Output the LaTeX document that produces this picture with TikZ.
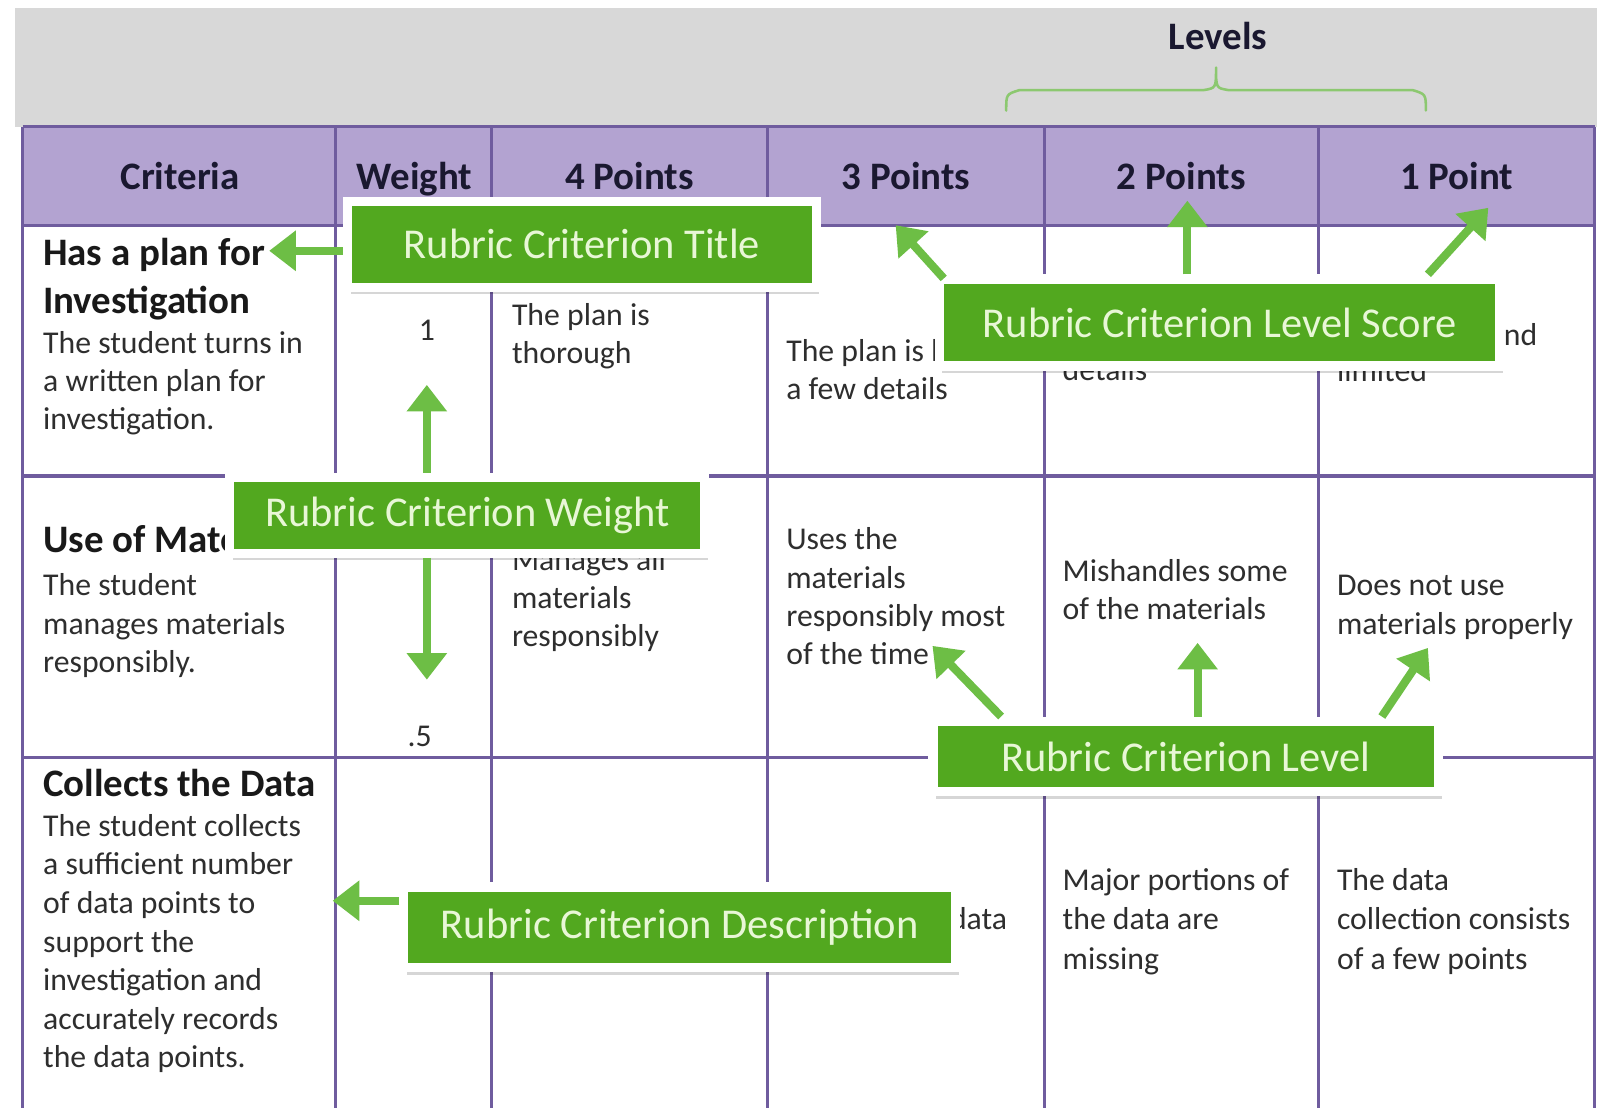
\documentclass[tikz,border=0pt]{standalone}
\usepackage{fontspec}
\setmainfont{Carlito}
\usetikzlibrary{arrows.meta,shadows}
\definecolor{gridc}{HTML}{6F5C9E}
\definecolor{headc}{HTML}{B3A3D1}
\definecolor{bandc}{HTML}{D8D8D8}
\definecolor{boxg}{HTML}{52A81F}
\definecolor{arrg}{HTML}{6DBE45}
\definecolor{labt}{HTML}{E8F7D6}
\definecolor{txtc}{HTML}{2E2E2E}
\definecolor{headt}{HTML}{1A1830}
\definecolor{bracec}{HTML}{8CC870}
\newcommand\celllines[5]{%
  \foreach \t [count=\i] in {#5} {\node[body] (#1-\i) at (#2,{#3+(\i-1)*#4}) {\t};}}
\begin{document}
\begin{tikzpicture}[x=1pt,y=-1pt,
  body/.style={anchor=base west, inner sep=0pt, text=txtc, font=\fontsize{31}{37}\selectfont},
  ttl/.style={anchor=base west, inner sep=0pt, text=black!90, font=\bfseries\fontsize{38}{45}\selectfont},
  hdr/.style={anchor=base, inner sep=0pt, text=headt, font=\bfseries\fontsize{38}{45}\selectfont},
  callout/.style={fill=boxg, draw=white, line width=9pt, text=labt, font=\fontsize{41.5}{48}\selectfont, inner sep=0pt,
    drop shadow={shadow xshift=3pt, shadow yshift=-7pt, opacity=0.16, fill=black}},
  arr/.style={draw=arrg, line width=8pt, -{Triangle[width=38pt,length=26pt]}},
  gridl/.style={draw=gridc, line width=3pt}
]
\fill[white] (0,0) rectangle (1568,1082);
\useasboundingbox (0,0) rectangle (1568,1082);
% grey band and header
\fill[bandc] (15,8) rectangle (1560,124);
\fill[headc] (22,124) rectangle (1558,220);
% header texts
\node[hdr] (hcrit) at (176,185) {Criteria};
\node[hdr] (hweight) at (405,185) {Weight};
\node[hdr] (h4) at (615,185) {4 Points};
\node[hdr] (h3) at (885,185) {3 Points};
\node[hdr] (h2) at (1154,185) {2 Points};
\node[hdr] (h1) at (1423,185) {1 Point};
% row 1
\node[ttl] (r1t1) at (42,259) {Has a plan for};
\node[ttl] (r1t2) at (42,306) {Investigation};
\celllines{r1d}{42}{345}{37.5}{The student turns in,a written plan for,investigation.}
\node[body,anchor=base] (w1) at (417,333) {1};
\celllines{r1c4}{500}{318}{37.5}{The plan is,thorough}
\celllines{r1c3}{768}{353}{37.5}{The plan is lacking,a few details}
\node[body] (r1c2) at (1038,372) {details};
\node[body,anchor=base east] (r1c1a) at (1502,338) {and};
\node[body] (r1c1b) at (1306,373) {limited};
% row 2
\node[ttl] (r2t1) at (42,540) {Use of Materials};
\celllines{r2d}{42}{582}{37.5}{The student,manages materials,responsibly.}
\node[body,anchor=base] (w2) at (410,729) {.5};
\celllines{r2c4}{500}{557}{37.5}{Manages all,materials,responsibly}
\celllines{r2c3}{768}{537}{37.5}{Uses the,materials,responsibly most,of the time}
\celllines{r2c2}{1038}{568}{37.5}{Mishandles some,of the materials}
\celllines{r2c1}{1306}{582}{37.5}{Does not use,materials properly}
% row 3
\node[ttl] (r3t1) at (42,778) {Collects the Data};
\celllines{r3d}{42}{817}{37.7}{The student collects,a sufficient number,of data points to,support the,investigation and,accurately records,the data points.}
\node[body,anchor=base east] (r3c3) at (984,908) {data};
\celllines{r3c2}{1038}{870}{38.5}{Major portions of,the data are,missing}
\celllines{r3c1}{1306}{870}{38.5}{The data,collection consists,of a few points}
% grid
\foreach \yy in {124,220,465,740} {\draw[gridl] (22,\yy) -- (1558,\yy);}
\foreach \xx in {22,328,480,750,1020,1288,1558} {\draw[gridl] (\xx,124) -- (\xx,1082);}
% levels brace
\draw[bracec, line width=2.5pt, line cap=round, line join=round]
  (983,108) .. controls (983,92) .. (996,88) -- (1176,88)
  .. controls (1188,86) .. (1188,66) .. controls (1188,86) .. (1200,88)
  -- (1380,88) .. controls (1393,92) .. (1393,108);
\node[hdr, font=\bfseries\fontsize{38}{44}\selectfont] (levels) at (1190,48) {Levels};
% arrow end points
\coordinate (tA) at (263,245);
\coordinate (wU) at (417,376);
\coordinate (wD) at (417,664);
\coordinate (s3) at (875,220);
\coordinate (s3s) at (922,272);
\coordinate (s2) at (1160,196);
\coordinate (s1) at (1454,203);
\coordinate (s1s) at (1395,268);
\coordinate (l3) at (911,631);
\coordinate (l3s) at (978,700);
\coordinate (l2) at (1170,628);
\coordinate (l1) at (1395,633);
\coordinate (l1s) at (1350,700);
\coordinate (dA) at (325,880);
% callouts
\node[callout, minimum width=458pt, minimum height=84pt] (ctitle) at (568.5,238.5) {Rubric Criterion Title};
\node[callout, minimum width=548pt, minimum height=85pt] (cscore) at (1191.5,315) {Rubric Criterion Level Score};
\node[callout, minimum width=464pt, minimum height=74pt] (cweight) at (456.5,503.5) {Rubric Criterion Weight};
\node[callout, minimum width=494pt, minimum height=69pt] (clevel) at (1158.5,739) {Rubric Criterion Level};
\node[callout, minimum width=539pt, minimum height=79pt] (cdesc) at (664,906) {Rubric Criterion Description};
% arrows
\draw[arr] (ctitle.west |- tA) -- (tA);
\draw[arr] (cweight.north -| wU) -- (wU);
\draw[arr] (cweight.south -| wD) -- (wD);
\draw[arr] (s3s) -- (s3);
\draw[arr] (cscore.north -| s2) -- (s2);
\draw[arr] (s1s) -- (s1);
\draw[arr] (l3s) -- (l3);
\draw[arr] (clevel.north -| l2) -- (l2);
\draw[arr] (l1s) -- (l1);
\draw[arr] (cdesc.west |- dA) -- (dA);
\end{tikzpicture}
\end{document}
